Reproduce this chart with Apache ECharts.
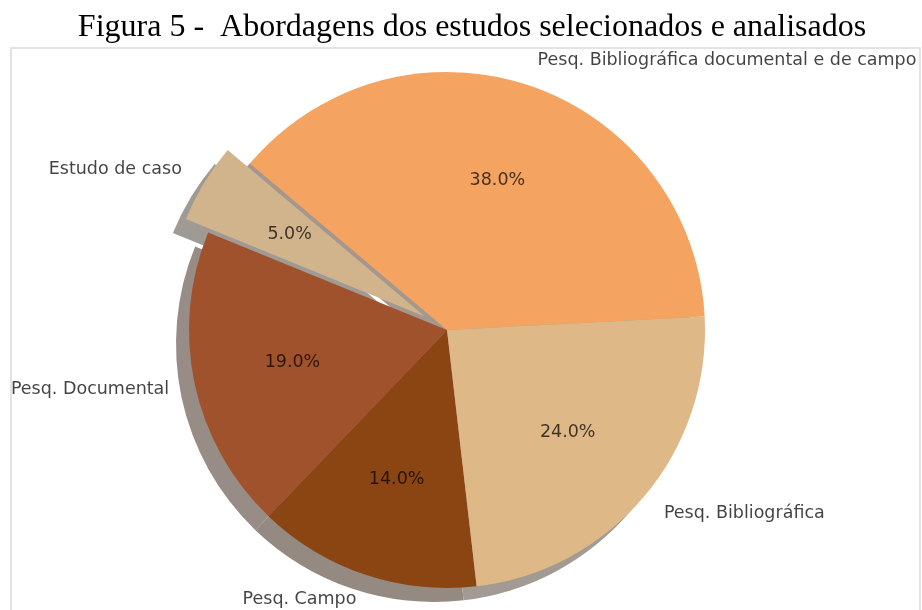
<!DOCTYPE html>
<html>
<head>
<meta charset="utf-8">
<script src="https://cdn.jsdelivr.net/npm/echarts@6/dist/echarts.min.js"></script>
<style>
  html, body { margin: 0; padding: 0; background: #fff; }
  #chart { width: 922px; height: 610px; }
</style>
</head>
<body>
<div id="chart"></div>
<script>
// dados (ordem anti-horaria, como no matplotlib)
var categories = ['Pesq. Bibliográfica documental e de campo', 'Estudo de caso', 'Pesq. Documental', 'Pesq. Campo', 'Pesq. Bibliográfica'];
var values = [38, 5, 19, 14, 24];
var exploded = [false, true, false, false, false];

var colors = ['#F4A460', '#D2B48C', '#A0522D', '#8B4513', '#DEB887'];
var shadowColors = ['#a4988e', '#9f9a94', '#978c86', '#948a82', '#a19b93'];

var cx = 447, cy = 330, R = 258;
var shadowDx = -13, shadowDy = 14;
var offset = Math.round(R * 0.1);

function buildData(cols) {
    var out = [];
    for (var i = 0; i < values.length; i++) {
        out.push({
            name: categories[i],
            value: values[i],
            selected: exploded[i],
            itemStyle: { color: cols ? cols[i] : 'rgba(0,0,0,0)' }
        });
    }
    return out;
}

var chart = echarts.init(document.getElementById('chart'));

var base = {
    type: 'pie',
    clockwise: false,
    startAngle: 3,
    selectedMode: 'multiple',
    selectedOffset: offset,
    avoidLabelOverlap: false,
    animation: false,
    silent: true,
    emphasis: { disabled: true }
};

var option = {
    backgroundColor: '#fff',
    title: {
        text: 'Figura 5 -  Abordagens dos estudos selecionados e analisados',
        left: 467,
        textAlign: 'center',
        top: 7,
        textStyle: {
            fontFamily: 'Liberation Serif',
            fontSize: 32,
            fontWeight: 'normal',
            color: '#000'
        }
    },
    graphic: [{
        type: 'rect',
        shape: { x: 11, y: 48, width: 909, height: 580 },
        style: { fill: 'none', stroke: '#dadada', lineWidth: 1.5 },
        silent: true,
        z: -1
    }],
    series: [
        // sombra
        Object.assign({}, base, {
            center: [cx + shadowDx, cy + shadowDy],
            radius: R,
            label: { show: false },
            labelLine: { show: false },
            data: buildData(shadowColors)
        }),
        // fatias + rotulos externos
        Object.assign({}, base, {
            center: [cx, cy],
            radius: R,
            label: {
                show: true,
                position: 'outside',
                fontFamily: 'DejaVu Sans',
                fontSize: 17.5,
                color: 'rgba(0,0,0,0.74)',
                distanceToLabelLine: 0
            },
            labelLine: { show: false, length: Math.round(R * 0.1), length2: 0 },
            data: buildData(colors)
        }),
        // percentuais a 0.6 r
        Object.assign({}, base, {
            center: [cx, cy],
            radius: [Math.round(R * 0.2), R],
            label: {
                show: true,
                position: 'inside',
                fontFamily: 'DejaVu Sans',
                fontSize: 17.5,
                color: 'rgba(0,0,0,0.72)',
                formatter: function (p) { return p.percent.toFixed(1) + '%'; }
            },
            labelLine: { show: false },
            data: buildData(null)
        })
    ]
};

chart.setOption(option);
</script>
</body>
</html>
